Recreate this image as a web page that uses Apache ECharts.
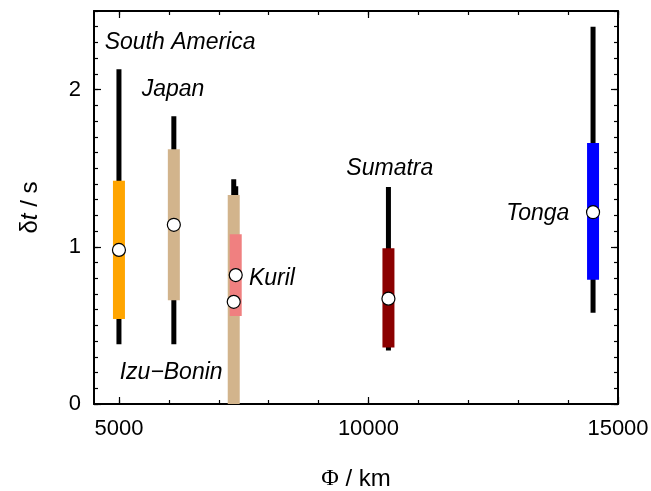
<!DOCTYPE html>
<html>
<head>
<meta charset="utf-8">
<script src="https://cdn.jsdelivr.net/npm/echarts@6/dist/echarts.min.js"></script>
<style>
html,body{margin:0;padding:0;background:#fff;}
#chart{width:651px;height:491px;}
</style>
</head>
<body>
<div id="chart"></div>
<script>
// ---- data ----
const regions = ['South America', 'Japan', 'Izu\u2212Bonin', 'Kuril', 'Sumatra', 'Tonga'];
const distanceKm = [5000, 6100, 7300, 7340, 10400, 14500];
const whiskerLow = [0.38, 0.38, 0.00, 0.45, 0.34, 0.58];
const whiskerHigh = [2.13, 1.83, 1.43, 1.385, 1.38, 2.40];
const boxLow = [0.54, 0.66, 0.00, 0.56, 0.36, 0.79];
const boxHigh = [1.42, 1.62, 1.33, 1.08, 0.99, 1.66];
const medianDt = [0.98, 1.14, 0.65, 0.82, 0.67, 1.22];
const regionColors = ['#FFA500', '#D2B48C', '#D2B48C', '#F08080', '#8B0000', '#0000FF'];
const xMajorTicks = [5000, 10000, 15000];
const xMinorTicks = [5000, 6000, 7000, 8000, 9000, 10000, 11000, 12000, 13000, 14000, 15000];
const yMajorTicks = [0, 1, 2];
const yMinorTicks = [0, 0.1, 0.2, 0.3, 0.4, 0.5, 0.6, 0.7, 0.8, 0.9, 1, 1.1, 1.2, 1.3, 1.4, 1.5, 1.6, 1.7, 1.8, 1.9, 2, 2.1, 2.2, 2.3, 2.4, 2.5];
// label anchors (data units: left edge, vertical middle)
const labelX = [4713, 5455, 5014, 7605, 9557, 12760];
const labelY = [2.30, 2.00, 0.198, 0.797, 1.496, 1.211];

const FONT = 'Liberation Sans, Arial, Helvetica, sans-serif';
const XMIN = 4500, XMAX = 15000, YMIN = 0, YMAX = 2.5;

function mkX(pos, major, showLine, labels, extra) {
  return Object.assign({
    type: 'value', position: pos, min: XMIN, max: XMAX,
    axisLine: { show: showLine, onZero: false, lineStyle: { color: '#000', width: 2 } },
    axisTick: { show: true, inside: true, length: major ? 7 : 4,
      customValues: major ? xMajorTicks : xMinorTicks, lineStyle: { color: '#000', width: 1.2 } },
    axisLabel: labels ? { show: true, customValues: xMajorTicks, color: '#000', fontSize: 22, fontFamily: FONT, margin: 14,
      formatter: (v) => String(v) } : { show: false },
    splitLine: { show: false }
  }, extra || {});
}
function mkY(pos, major, showLine, labels, extra) {
  return Object.assign({
    type: 'value', position: pos, min: YMIN, max: YMAX,
    axisLine: { show: showLine, onZero: false, lineStyle: { color: '#000', width: 2 } },
    axisTick: { show: true, inside: true, length: major ? 7 : 4,
      customValues: major ? yMajorTicks : yMinorTicks, lineStyle: { color: '#000', width: 1.2 } },
    axisLabel: labels ? { show: true, customValues: yMajorTicks, color: '#000', fontSize: 22, fontFamily: FONT, margin: 13,
      formatter: (v) => String(v) } : { show: false },
    splitLine: { show: false }
  }, extra || {});
}

function rectRenderer(widthPx, colorFn) {
  return function (params, api) {
    const x = api.value(0), lo = api.value(1), hi = api.value(2);
    const top = api.coord([x, hi]);
    const bot = api.coord([x, lo]);
    return {
      type: 'rect',
      shape: { x: top[0] - widthPx / 2, y: top[1], width: widthPx, height: bot[1] - top[1] },
      style: { fill: colorFn(params.dataIndex) }
    };
  };
}

const whiskerData = distanceKm.map((d, i) => [d, whiskerLow[i], whiskerHigh[i]]);
const boxData = distanceKm.map((d, i) => [d, boxLow[i], boxHigh[i]]);
const medianData = distanceKm.map((d, i) => [d, medianDt[i]]);
const labelData = regions.map((r, i) => ({ name: r, value: [labelX[i], labelY[i]] }));

const chart = echarts.init(document.getElementById('chart'), null, { renderer: 'canvas' });
chart.setOption({
  backgroundColor: '#fff',
  animation: false,
  grid: { left: 94, right: 33, top: 11, bottom: 87, containLabel: false, outerBoundsMode: 'none' },
  xAxis: [
    mkX('bottom', true, true, true, {
      name: '{phi|\u03A6} / km', nameLocation: 'middle', nameGap: 63,
      nameTextStyle: { color: '#000', fontSize: 24, fontFamily: FONT,
        rich: { phi: { fontFamily: 'Liberation Serif, DejaVu Serif, serif', fontSize: 24, color: '#000' } } }
    }),
    mkX('bottom', false, false, false),
    mkX('top', true, true, false),
    mkX('top', false, false, false)
  ],
  yAxis: [
    mkY('left', true, true, true, {
      name: '\u03B4{it|t} / s', nameLocation: 'middle', nameGap: 52, nameRotate: 90,
      nameTextStyle: { color: '#000', fontSize: 24, fontFamily: FONT,
        rich: { it: { fontStyle: 'italic', fontFamily: FONT, fontSize: 24, color: '#000' } } }
    }),
    mkY('left', false, false, false),
    mkY('right', true, true, false),
    mkY('right', false, false, false)
  ],
  series: [
    {
      name: 'range', type: 'custom', xAxisIndex: 0, yAxisIndex: 0, z: 2,
      renderItem: rectRenderer(5, () => '#000'),
      encode: { x: 0, y: [1, 2] },
      data: whiskerData
    },
    {
      name: 'interquartile', type: 'custom', xAxisIndex: 0, yAxisIndex: 0, z: 3,
      renderItem: rectRenderer(12, (i) => regionColors[i]),
      encode: { x: 0, y: [1, 2] },
      data: boxData
    },
    {
      name: 'median', type: 'scatter', xAxisIndex: 0, yAxisIndex: 0, z: 4,
      symbol: 'circle', symbolSize: 13,
      itemStyle: { color: '#fff', borderColor: '#000', borderWidth: 1.2, opacity: 1 },
      data: medianData
    },
    {
      name: 'labels', type: 'scatter', xAxisIndex: 0, yAxisIndex: 0, z: 5,
      symbolSize: 0, silent: true,
      itemStyle: { opacity: 1, color: '#000' },
      label: {
        show: true, position: 'right', distance: 0, formatter: '{b}',
        color: '#000', opacity: 1, fontSize: 23, fontStyle: 'italic', fontFamily: FONT,
        textBorderWidth: 0, align: 'left', verticalAlign: 'middle'
      },
      data: labelData
    }
  ]
});
</script>
</body>
</html>
